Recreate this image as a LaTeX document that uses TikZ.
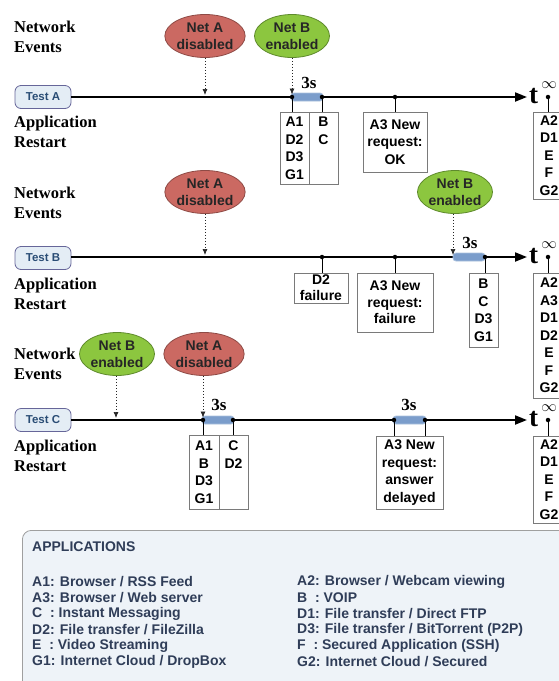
\documentclass[tikz,border=0pt]{standalone}
\usepackage{fontspec}
\setmainfont{Liberation Serif}
\setsansfont{Liberation Sans}
\usetikzlibrary{shapes.geometric,arrows.meta,calc}
\definecolor{netred}{HTML}{CB6962}
\definecolor{netredb}{HTML}{8E4A45}
\definecolor{netgreen}{HTML}{8CC63F}
\definecolor{netgreenb}{HTML}{5E8A2C}
\definecolor{barblue}{HTML}{7B9DCB}
\definecolor{barblueb}{HTML}{A9C0DD}
\definecolor{testfill}{HTML}{E4EDF5}
\definecolor{testtext}{HTML}{2A4D75}
\definecolor{legfill}{HTML}{EEF3F8}
\definecolor{legtext}{HTML}{2F3D58}
\definecolor{boxgray}{HTML}{7A7A7A}
\newcommand{\biginf}{\scalebox{1.55}{$\infty$}}
\tikzset{
  evt/.style={ellipse, line width=0.8pt, minimum width=75pt, minimum height=43pt, inner sep=0pt,
    align=center, text=black!85, font=\sffamily\bfseries\fontsize{14}{17}\selectfont},
  disA/.style={evt, fill=netred, draw=netredb},
  enB/.style={evt, fill=netgreen, draw=netgreenb},
  testbox/.style={rounded corners=6pt, draw=gray!80!blue, line width=0.8pt, fill=testfill,
    minimum width=56pt, minimum height=23pt, inner sep=0pt, text=testtext,
    font=\sffamily\bfseries\fontsize{11.5}{13}\selectfont},
  lbl/.style={anchor=west, align=left, inner sep=0pt, font=\bfseries\fontsize{16.5}{20}\selectfont},
  tline/.style={line width=2pt, -{Triangle[length=12pt,width=9pt]}},
  evarrow/.style={line width=0.7pt, gray!30!black, dash pattern=on 1.5pt off 1.5pt,
    -{Latex[length=6pt,width=5pt]}},
  rbox/.style={draw=boxgray, line width=0.8pt, fill=white, inner sep=0pt, align=center,
    font=\sffamily\bfseries\fontsize{14}{17.5}\selectfont},
  tbar/.style={fill=barblue, draw=barblueb, line width=0.8pt, rounded corners=3pt,
    minimum height=8pt, inner sep=0pt},
  dot/.style={circle, fill=black, inner sep=0pt, minimum size=4.5pt},
  tick/.style={line width=0.8pt},
  secs/.style={font=\bfseries\fontsize{17}{18}\selectfont, inner sep=0pt},
  tinf/.style={font=\bfseries\fontsize{27}{28}\selectfont, inner sep=0pt},
  infsym/.style={inner sep=0pt},
  legrow/.style={anchor=west, inner sep=0pt, text=legtext, font=\sffamily\bfseries\fontsize{14}{16}\selectfont},
}
\begin{document}
\begin{tikzpicture}[x=1pt,y=-1pt]
\useasboundingbox (0,0) rectangle (559,681);
\clip (0,0) rectangle (559,681);

% ================= Test A =================
\node[lbl] (neA) at (14,37) {Network\\Events};
\node[lbl] (arA) at (14,132) {Application\\Restart};
\node[testbox] (tA) at (43,97) {Test A};
\coordinate (endA) at (527,97);
\draw[tline] (tA.east) -- (endA);
\node[disA] (eA1) at (205,36) {Net A\\disabled};
\node[enB] (eB1) at (292,36) {Net B\\enabled};
\coordinate (pA1) at (205,95);
\draw[evarrow] (eA1) -- (pA1);
\node[tbar, minimum width=32pt] (barA) at (307,97) {};
\node[dot] (dA1) at (292,97) {};
\node[dot] (dA2) at (322,97) {};
\draw[evarrow] (eB1) -- (dA1);
\node[secs] (sA) at (309,83) {3s};
\node[rbox, minimum width=29pt, minimum height=72pt] (bA1) at (294.5,148) {A1\\D2\\D3\\G1};
\node[rbox, minimum width=29pt, minimum height=72pt] (bA2) at (323.5,148) {B\\C\\~\\~};
\draw[tick] (dA1) -- (dA1 |- bA1.north);
\draw[tick] (dA2) -- (dA2 |- bA2.north);
\node[dot] (dA3) at (395,97) {};
\node[rbox, minimum width=64pt, minimum height=60pt] (bA3) at (395,142) {A3 New\\request:\\OK};
\draw[tick] (dA3) -- (bA3.north);
\node[tinf] (tA1) at (533.5,96) {t};
\node[infsym] (iA1) at (549,85) {\biginf};
\node[dot] (dA4) at (548,97) {};
\node[rbox, minimum width=32pt, minimum height=87pt] (bA4) at (549,155.5) {A2\\D1\\E\\F\\G2};
\draw[tick] (dA4) -- (dA4 |- bA4.north);

% ================= Test B =================
\node[lbl] (neB) at (14,202.5) {Network\\Events};
\node[lbl] (arB) at (14,293.5) {Application\\Restart};
\node[testbox] (tB) at (43,258) {Test B};
\coordinate (endB) at (527,257);
\draw[tline] (tB.east |- endB) -- (endB);
\node[disA] (eA2) at (205,192) {Net A\\disabled};
\coordinate (pA2) at (205,255);
\draw[evarrow] (eA2) -- (pA2);
\node[dot] (dB1) at (322,257) {};
\node[rbox, minimum width=54pt, minimum height=30pt, font=\sffamily\bfseries\fontsize{14}{16}\selectfont] (bB1) at (321,288) {D2\\failure};
\draw[tick] (dB1) -- (dB1 |- bB1.north);
\node[dot] (dB2) at (395,257) {};
\node[rbox, minimum width=76pt, minimum height=59pt, font=\sffamily\bfseries\fontsize{14}{16.5}\selectfont] (bB2) at (395,302.5) {A3 New\\request:\\failure};
\draw[tick] (dB2) -- (bB2.north);
\node[enB] (eB2) at (455,192) {Net B\\enabled};
\node[tbar, minimum width=32pt] (barB) at (469,257) {};
\coordinate (pB2) at (453,255);
\draw[evarrow] (eB2.south -| pB2) -- (pB2);
\node[dot] (dB3) at (485,257) {};
\node[secs] (sB) at (470,243) {3s};
\node[rbox, minimum width=29pt, minimum height=74pt] (bB3) at (483.5,310) {B\\C\\D3\\G1};
\draw[tick] (dB3) -- (dB3 |- bB3.north);
\node[tinf] (tB1) at (533.5,256) {t};
\node[infsym] (iB1) at (549,245) {\biginf};
\node[dot] (dB4) at (548,257) {};
\node[rbox, minimum width=32pt, minimum height=125pt] (bB4) at (549,335.5) {A2\\A3\\D1\\D2\\E\\F\\G2};
\draw[tick] (dB4) -- (dB4 |- bB4.north);

% ================= Test C =================
\node[lbl] (neC) at (14,363.5) {Network\\Events};
\node[lbl] (arC) at (14,456) {Application\\Restart};
\node[testbox] (tC) at (43,420) {Test C};
\coordinate (endC) at (527,420);
\draw[tline] (tC.east) -- (endC);
\node[enB] (eB3) at (117,354) {Net B\\enabled};
\coordinate (pC0) at (116,418);
\draw[evarrow] (eB3.south -| pC0) -- (pC0);
\node[disA] (eA3) at (204,354) {Net A\\disabled};
\node[tbar, minimum width=32pt] (barC1) at (218,420) {};
\node[dot] (dC1) at (203,420) {};
\node[dot] (dC2) at (233,420) {};
\draw[evarrow] (eA3.south -| dC1) -- (dC1);
\node[secs] (sC1) at (219,405) {3s};
\node[rbox, minimum width=30pt, minimum height=74pt] (bC1) at (204,472) {A1\\B\\D3\\G1};
\node[rbox, minimum width=29pt, minimum height=74pt] (bC2) at (233.5,472) {C\\D2\\~\\~};
\draw[tick] (dC1) -- (dC1 |- bC1.north);
\draw[tick] (dC2) -- (dC2 |- bC2.north);
\node[tbar, minimum width=33pt] (barC2) at (409.5,420) {};
\node[dot] (dC3) at (394,420) {};
\node[dot] (dC4) at (425,420) {};
\node[secs] (sC2) at (409,405) {3s};
\node[rbox, minimum width=67pt, minimum height=73pt] (bC3) at (409.5,472.5) {A3 New\\request:\\answer\\delayed};
\draw[tick] (dC3) -- (dC3 |- bC3.north);
\draw[tick] (dC4) -- (dC4 |- bC3.north);
\node[tinf] (tC1) at (533.5,419) {t};
\node[infsym] (iC1) at (549,408) {\biginf};
\node[dot] (dC5) at (548,420) {};
\node[rbox, minimum width=32pt, minimum height=87pt] (bC4) at (549,479.5) {A2\\D1\\E\\F\\G2};
\draw[tick] (dC5) -- (dC5 |- bC4.north);

% ================= Legend =================
\node[draw=gray!75, line width=0.8pt, fill=legfill, rounded corners=9pt, anchor=north west,
  minimum width=560pt, minimum height=170pt, inner sep=0pt] (leg) at (22,530) {};
\node[legrow] (lt) at (32,547) {APPLICATIONS};
\node[legrow] (l1) at (32,582) {A1: Browser / RSS Feed};
\node[legrow] (l2) at (32,598) {A3: Browser / Web server};
\node[legrow] (l3) at (32,614) {C \ : Instant Messaging};
\node[legrow] (l4) at (32,630) {D2: File transfer / FileZilla};
\node[legrow] (l5) at (32,646) {E \ : Video Streaming};
\node[legrow] (l6) at (32,662) {G1: Internet Cloud / DropBox};
\node[legrow] (r1) at (297,582) {A2: Browser / Webcam viewing};
\node[legrow] (r2) at (297,598) {B \ : VOIP};
\node[legrow] (r3) at (297,614) {D1: File transfer / Direct FTP};
\node[legrow] (r4) at (297,630) {D3: File transfer / BitTorrent (P2P)};
\node[legrow] (r5) at (297,646) {F \ : Secured Application (SSH)};
\node[legrow] (r6) at (297,662) {G2: Internet Cloud / Secured};
\end{tikzpicture}
\end{document}
